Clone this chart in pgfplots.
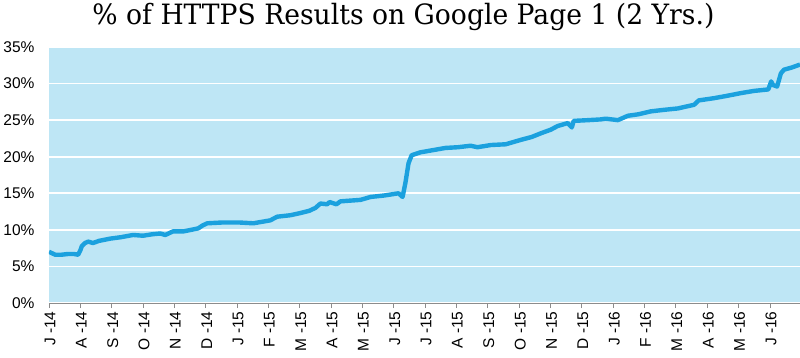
\documentclass[border=0pt]{standalone}
\usepackage{fontspec}
\setmainfont{Liberation Sans}
\newfontfamily\titlefont[FakeStretch=0.95]{DejaVu Serif}
\usepackage{pgfplots}
\pgfplotsset{compat=1.18}
\definecolor{bgblue}{HTML}{BEE6F5}
\definecolor{lineblue}{HTML}{1BA1DE}
\definecolor{axgray}{HTML}{8C8C8C}
\begin{document}
\begin{tikzpicture}
\useasboundingbox (-49pt,-54pt) rectangle (751pt,303pt);
\begin{axis}[
  at={(0pt,0pt)}, anchor=south west,
  scale only axis, width=751pt, height=256pt,
  xmin=0, xmax=23.96, ymin=0, ymax=35,
  axis background/.style={fill=bgblue},
  axis x line*=bottom, axis y line*=left,
  y axis line style={draw=none},
  x axis line style={draw=axgray, line width=1pt},
  ytick={0,5,...,35},
  yticklabel={\pgfmathprintnumber{\tick}\%},
  ytick style={draw=none},
  ymajorgrids, grid style={white, line width=1.6pt},
  xtick={0,...,23},
  xticklabels={J -14,A -14,S -14,O -14,N -14,D -14,J -15,F -15,M -15,A -15,M -15,J -15,J -15,A -15,S -15,O -15,N -15,D -15,J -16,F -16,M -16,A -16,M -16,J -16},
  xtick style={draw=axgray, line width=0.8pt},
  tick align=outside, major tick length=5pt,
  /pgf/number format/assume math mode=true,
  yticklabel style={font=\fontsize{15.5}{18}\selectfont, text=black, xshift=-6pt},
  xticklabel style={font=\fontsize{15.5}{18}\selectfont, text=black, rotate=90, anchor=east, yshift=-1pt},
  title={\% of HTTPS Results on Google Page 1 (2 Yrs.)},
  title style={font=\titlefont\fontsize{28}{31}\selectfont, text=black, at={(rel axis cs:0.472,1)}, anchor=south, yshift=7pt},
]
\addplot[lineblue, line width=4.4pt, line join=round] coordinates {
(0,7.0) (0.1,6.8) (0.2,6.6) (0.4,6.6) (0.6,6.7) (0.8,6.7) (0.93,6.6)
(1.0,7.2) (1.05,7.8) (1.15,8.2) (1.25,8.4) (1.4,8.2) (1.6,8.5) (1.95,8.8)
(2.3,9.0) (2.68,9.3) (3.0,9.2) (3.3,9.4) (3.55,9.5) (3.71,9.3) (3.96,9.8)
(4.3,9.8) (4.76,10.2) (4.9,10.6) (5.05,10.9) (5.5,11.0) (6.1,11.0) (6.52,10.9)
(7.06,11.3) (7.28,11.8) (7.7,12.0) (8.02,12.3) (8.3,12.6) (8.5,13.0) (8.66,13.6)
(8.88,13.5) (8.95,13.8) (9.17,13.5) (9.3,13.9) (9.94,14.1) (10.26,14.5) (10.7,14.7)
(11.15,15.0) (11.28,14.5) (11.37,16.4) (11.47,19.1) (11.57,20.2) (11.85,20.6)
(12.25,20.9) (12.65,21.2) (13.05,21.3) (13.45,21.5) (13.67,21.3) (14.1,21.6)
(14.57,21.7) (15.05,22.3) (15.4,22.7) (15.69,23.2) (16.01,23.7) (16.23,24.2)
(16.55,24.6) (16.68,24.0) (16.74,24.9) (17.2,25.0) (17.6,25.1) (17.76,25.2)
(18.15,25.0) (18.47,25.6) (18.8,25.8) (19.2,26.2) (19.6,26.4) (20.06,26.6)
(20.58,27.1) (20.73,27.7) (21.21,28.0) (21.6,28.3) (22.08,28.7) (22.5,29.0)
(22.95,29.2) (23.04,30.3) (23.10,29.8) (23.23,29.6) (23.35,31.4) (23.45,31.9)
(23.7,32.2) (23.96,32.6)
};
\end{axis}
\end{tikzpicture}
\end{document}
